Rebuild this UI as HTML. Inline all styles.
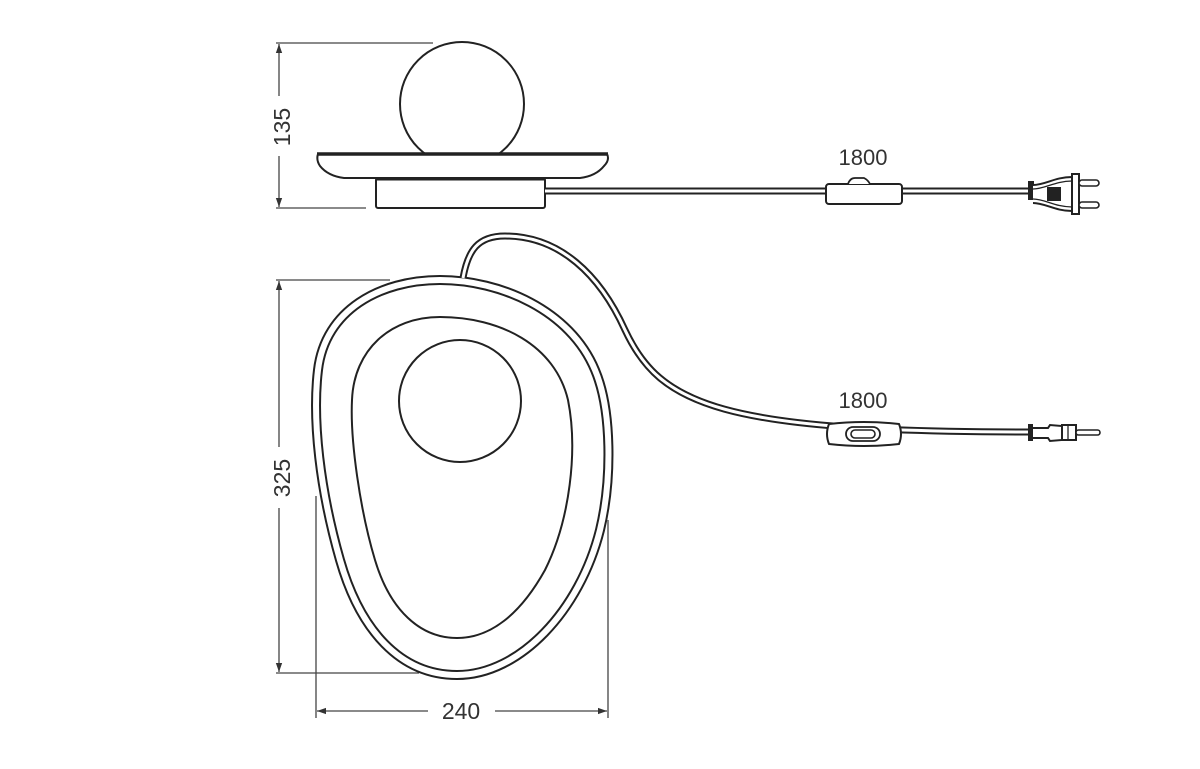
<!DOCTYPE html>
<html><head><meta charset="utf-8"><style>
html,body{margin:0;padding:0;background:#fff;}
svg{display:block;}
text{font-family:"Liberation Sans",sans-serif;fill:#333;}
</style></head><body>
<svg width="1200" height="769" viewBox="0 0 1200 769" xmlns="http://www.w3.org/2000/svg">
<defs>
<marker id="ar" viewBox="0 0 10 10" refX="10" refY="5" markerWidth="9" markerHeight="9" orient="auto-start-reverse" markerUnits="userSpaceOnUse"><path d="M0,1.5 L10,5 L0,8.5 Z" fill="#333"/></marker>
</defs>
<g stroke="#444" stroke-width="1.3" fill="none">
<!-- 135 dimension -->
<line x1="276" y1="43" x2="433" y2="43"/>
<line x1="276" y1="208" x2="366" y2="208"/>
<line x1="279" y1="96" x2="279" y2="44" marker-end="url(#ar)"/>
<line x1="279" y1="156" x2="279" y2="207" marker-end="url(#ar)"/>
<!-- 325 dimension -->
<line x1="276" y1="280" x2="390" y2="280"/>
<line x1="276" y1="673" x2="419" y2="673"/>
<line x1="279" y1="447" x2="279" y2="281" marker-end="url(#ar)"/>
<line x1="279" y1="508" x2="279" y2="672" marker-end="url(#ar)"/>
<!-- 240 dimension -->
<line x1="316" y1="496" x2="316" y2="718"/>
<line x1="608" y1="520" x2="608" y2="718"/>
<line x1="428" y1="711" x2="317" y2="711" marker-end="url(#ar)"/>
<line x1="495" y1="711" x2="607" y2="711" marker-end="url(#ar)"/>
</g>
<g font-size="23">
<text x="0" y="0" text-anchor="middle" transform="translate(290,127) rotate(-90)">135</text>
<text x="0" y="0" text-anchor="middle" transform="translate(290,478) rotate(-90)">325</text>
<text x="461" y="719" text-anchor="middle">240</text>
<text x="863" y="165" text-anchor="middle" font-size="22">1800</text>
<text x="863" y="408" text-anchor="middle" font-size="22">1800</text>
</g>
<g stroke="#222" fill="none" stroke-width="2">
<!-- top view -->
<circle cx="462" cy="104" r="62" fill="#fff"/>
<path d="M318,154 L607,154 Q610,160 604,166 Q596,176 580,178 L344,178 Q328,176 320,166 Q316,160 318,154 Z" fill="#fff"/>
<line x1="317" y1="154" x2="608" y2="154" stroke-width="3.5"/>
<rect x="376" y="178" width="169" height="30" rx="2" fill="#fff"/>
<line x1="376" y1="179" x2="545" y2="179" stroke-width="3"/>
<!-- top cable -->
<path d="M545,191 L1030,191" stroke-width="7"/>
<path d="M545,191 L1030,191" stroke="#fff" stroke-width="3"/>
<rect x="826" y="184" width="76" height="20" rx="3" fill="#fff"/>
<path d="M848,184 Q850,178 855,178 L864,178 Q868,180 870,184" fill="#fff" stroke-width="1.8"/>
<!-- top plug -->
<rect x="1029" y="182" width="4" height="17" fill="#222"/>
<path d="M1033,185 C1045,185 1055,177 1072,177 L1072,211 C1055,211 1045,203 1033,203" fill="#fff"/>
<path d="M1033,189 C1045,189 1055,181 1072,181 M1033,199 C1045,199 1055,207 1072,207" stroke-width="1.3"/>
<rect x="1047" y="187" width="14" height="14" fill="#222" stroke="none"/>
<rect x="1072" y="174" width="7" height="40" fill="#fff"/>
<rect x="1079" y="180" width="20" height="6" rx="3" fill="#fff" stroke-width="1.6"/>
<rect x="1079" y="202" width="20" height="6" rx="3" fill="#fff" stroke-width="1.6"/>
<!-- bottom view -->
<path d="M440,280 C500,280 570,310 595,370 C612,410 612,480 600,530 C580,610 520,675 457,675 C400,675 360,630 340,560 C320,490 312,420 318,370 C325,310 380,280 440,280 Z" stroke-width="10"/>
<path d="M440,280 C500,280 570,310 595,370 C612,410 612,480 600,530 C580,610 520,675 457,675 C400,675 360,630 340,560 C320,490 312,420 318,370 C325,310 380,280 440,280 Z" stroke="#fff" stroke-width="6"/>
<path d="M440,317 C500,317 555,345 568,400 C578,450 570,520 545,570 C520,615 490,638 457,638 C420,638 390,610 375,560 C360,510 350,440 352,400 C354,350 390,317 440,317 Z"/>
<circle cx="460" cy="401" r="61"/>
<!-- bottom cable -->
<path d="M463,278 C468,250 478,236 505,236 C560,236 600,275 625,330 C660,405 720,432 1030,432" stroke-width="7"/>
<path d="M463,278 C468,250 478,236 505,236 C560,236 600,275 625,330 C660,405 720,432 1030,432" stroke="#fff" stroke-width="3"/>
<path d="M829,424 Q864,420 899,424 Q903,434 899,444 Q864,448 829,444 Q825,434 829,424 Z" fill="#fff"/>
<rect x="846" y="427" width="34" height="14" rx="7" fill="#fff" stroke-width="1.8"/>
<rect x="851" y="430" width="24" height="8" rx="4" fill="#fff" stroke-width="1.6"/>
<!-- bottom plug -->
<rect x="1028" y="424" width="5" height="17" fill="#222" stroke="none"/>
<path d="M1033,428 L1048,428 L1050,425 L1062,426 L1062,440 L1050,441 L1048,438 L1033,438" fill="#fff"/>
<rect x="1062" y="425" width="14" height="15" fill="#fff"/>
<line x1="1068" y1="425" x2="1068" y2="440" stroke-width="1.3"/>
<rect x="1076" y="430" width="24" height="5" rx="2.5" fill="#fff" stroke-width="1.6"/>
</g>
</svg>
</body></html>
